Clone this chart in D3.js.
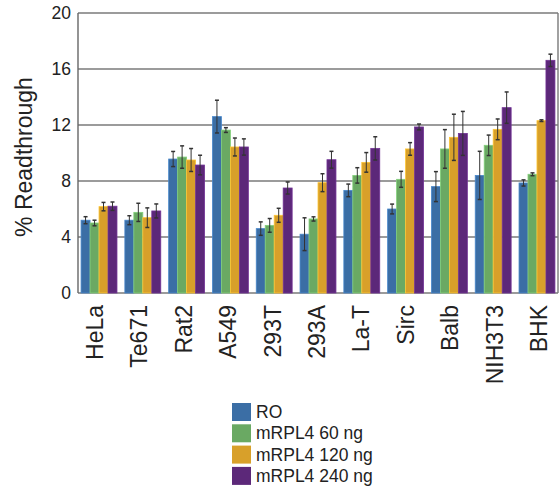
<!DOCTYPE html>
<html>
<head>
<meta charset="utf-8">
<script src="https://cdn.jsdelivr.net/npm/d3@7"></script>
<style>
  body { margin: 0; background: #fff; }
  text { font-family: "Liberation Sans", Arial, sans-serif; fill: #222; }
</style>
</head>
<body>
<div id="chart"></div>
<script>
// Data
const cellLines = ["HeLa", "Te671", "Rat2", "A549", "293T", "293A", "La-T", "Sirc", "Balb", "NIH3T3", "BHK"];
const seriesNames = ["RO", "mRPL4 60 ng", "mRPL4 120 ng", "mRPL4 240 ng"];
const seriesColors = ["#3b6ea5", "#6aa963", "#d8a02a", "#5c2879"];

const roValues   = [5.2, 5.2, 9.57, 12.6, 4.6, 4.2, 7.33, 6.0, 7.6, 8.4, 7.86];
const ng60Values = [5.0, 5.76, 9.71, 11.64, 4.83, 5.29, 8.4, 8.12, 10.29, 10.55, 8.48];
const ng120Values = [6.17, 5.38, 9.5, 10.43, 5.55, 7.88, 9.33, 10.29, 11.12, 11.69, 12.31];
const ng240Values = [6.2, 5.86, 9.14, 10.43, 7.5, 9.52, 10.33, 11.86, 11.4, 13.24, 16.62];

const roErr   = [0.25, 0.32, 0.54, 1.17, 0.48, 1.17, 0.45, 0.35, 1.07, 1.72, 0.22];
const ng60Err = [0.2, 0.65, 0.8, 0.17, 0.49, 0.15, 0.55, 0.57, 1.38, 0.73, 0.1];
const ng120Err = [0.3, 0.7, 0.82, 0.64, 0.5, 0.64, 0.7, 0.45, 1.65, 0.74, 0.06];
const ng240Err = [0.3, 0.5, 0.7, 0.58, 0.43, 0.6, 0.83, 0.21, 1.57, 1.12, 0.44];

const yTicks = [0, 4, 8, 12, 16, 20];

const allValues = [roValues, ng60Values, ng120Values, ng240Values];
const allErrors = [roErr, ng60Err, ng120Err, ng240Err];

// Flatten into bar records
const bars = [];
cellLines.forEach((c, i) => {
    seriesNames.forEach((s, j) => {
        bars.push({cell: c, series: s, value: allValues[j][i], err: allErrors[j][i], color: seriesColors[j]});
    });
});

const W = 559, H = 491;
const plot = {left: 78, right: 558, top: 13, bottom: 293};

const svg = d3.select("#chart")
    .append("svg")
    .attr("width", W)
    .attr("height", H);

const x = d3.scaleBand()
    .domain(cellLines)
    .range([plot.left, plot.right])
    .paddingInner(0.18)
    .paddingOuter(0.07);

const xSub = d3.scaleBand()
    .domain(seriesNames)
    .range([0, x.bandwidth()]);

// label positions are spaced a little wider than the bars in the original
const xLabel = d3.scalePoint()
    .domain(cellLines)
    .range([95, 539]);

const y = d3.scaleLinear()
    .domain([0, 20])
    .range([plot.bottom, plot.top]);

// Gridlines
svg.append("g")
    .selectAll("line")
    .data(yTicks)
    .enter()
    .append("line")
    .attr("x1", plot.left)
    .attr("x2", plot.right)
    .attr("y1", d => y(d))
    .attr("y2", d => y(d))
    .attr("stroke", "#7a7a7a")
    .attr("stroke-width", 1.4);

// Frame: left axis and right border
svg.append("line")
    .attr("x1", plot.left).attr("x2", plot.left)
    .attr("y1", plot.top).attr("y2", plot.bottom)
    .attr("stroke", "#666").attr("stroke-width", 1.4);
svg.append("line")
    .attr("x1", plot.right).attr("x2", plot.right)
    .attr("y1", plot.top).attr("y2", plot.bottom)
    .attr("stroke", "#7a7a7a").attr("stroke-width", 1.4);

// Y axis labels
const yAxis = svg.append("g")
    .attr("transform", `translate(${plot.left},0)`)
    .call(d3.axisLeft(y).tickValues(yTicks).tickSize(0).tickPadding(7));
yAxis.select(".domain").remove();
yAxis.selectAll("text")
    .style("font-size", "17.5px")
    .attr("fill", "#222");

// Bars
svg.append("g")
    .selectAll("rect")
    .data(bars)
    .enter()
    .append("rect")
    .attr("x", d => x(d.cell) + xSub(d.series))
    .attr("y", d => y(d.value))
    .attr("width", xSub.bandwidth())
    .attr("height", d => y(0) - y(d.value))
    .attr("fill", d => d.color)
    .attr("stroke", d => d3.color(d.color).brighter(0.6))
    .attr("stroke-width", 0.8);

// Error bars
const eb = svg.append("g")
    .selectAll("g")
    .data(bars)
    .enter()
    .append("g")
    .attr("stroke", "#333")
    .attr("stroke-width", 1);
const cx = d => x(d.cell) + xSub(d.series) + xSub.bandwidth() / 2;
eb.append("line")
    .attr("x1", cx).attr("x2", cx)
    .attr("y1", d => y(d.value - d.err))
    .attr("y2", d => y(d.value + d.err));
eb.append("line")
    .attr("x1", d => cx(d) - 2).attr("x2", d => cx(d) + 2)
    .attr("y1", d => y(d.value + d.err))
    .attr("y2", d => y(d.value + d.err))
    .attr("stroke-width", 1.5);
eb.append("line")
    .attr("x1", d => cx(d) - 2).attr("x2", d => cx(d) + 2)
    .attr("y1", d => y(d.value - d.err))
    .attr("y2", d => y(d.value - d.err))
    .attr("stroke-width", 1.5);

// X category labels (rotated)
svg.append("g")
    .selectAll("text")
    .data(cellLines)
    .enter()
    .append("text")
    .attr("transform", d => `translate(${xLabel(d) + 8},305) rotate(-90)`)
    .attr("text-anchor", "end")
    .style("font-size", "23px")
    .text(d => d);

// Y axis title
svg.append("text")
    .attr("transform", "translate(32,157) rotate(-90)")
    .attr("text-anchor", "middle")
    .style("font-size", "23px")
    .text("% Readthrough");

// Legend
const legend = svg.append("g")
    .selectAll("g")
    .data(seriesNames)
    .enter()
    .append("g")
    .attr("transform", (d, i) => `translate(232,${412 + i * 21.3})`);
legend.append("rect")
    .attr("x", 0)
    .attr("y", -9)
    .attr("width", 19)
    .attr("height", 18)
    .attr("fill", (d, i) => seriesColors[i]);
legend.append("text")
    .attr("x", 24)
    .attr("y", 6)
    .style("font-size", "17.5px")
    .text(d => d);
</script>
</body>
</html>
